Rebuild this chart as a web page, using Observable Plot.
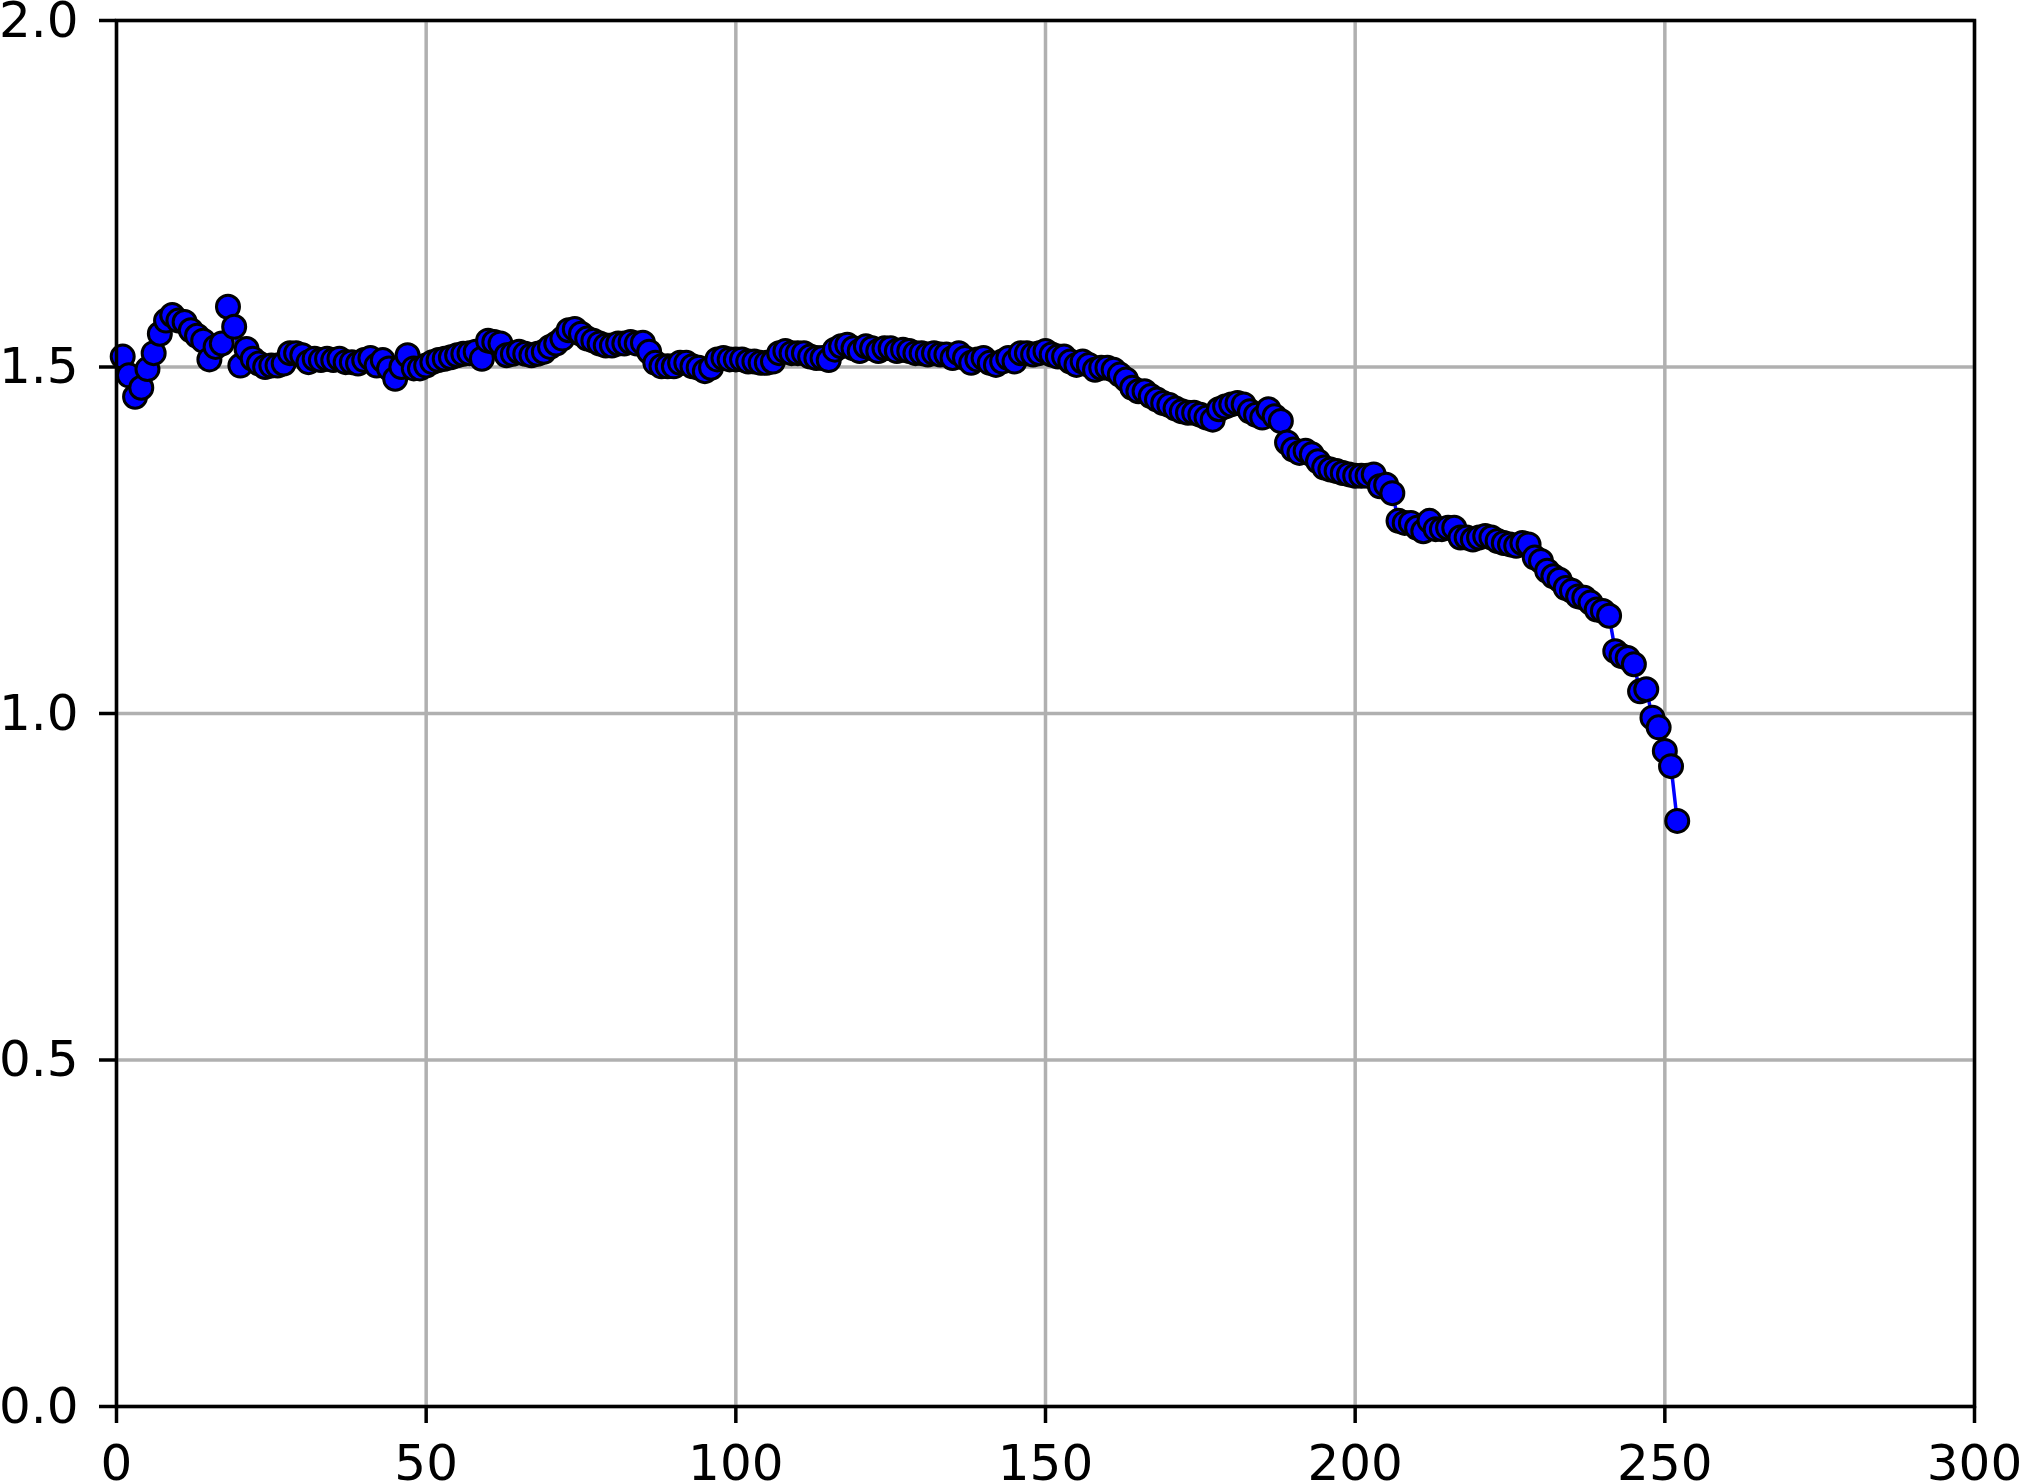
<!DOCTYPE html>
<html>
<head>
<meta charset="utf-8">
<script src="https://cdn.jsdelivr.net/npm/d3@7"></script>
<script src="https://cdn.jsdelivr.net/npm/@observablehq/plot@0.6"></script>
<style>
  html, body { margin: 0; padding: 0; background: #ffffff; }
  #chart svg { display: block; }
</style>
</head>
<body>
<div id="chart"></div>
<script>
const values = [
  1.515, 1.488, 1.457, 1.470, 1.497, 1.520, 1.548, 1.567, 1.575, 1.567,
  1.565, 1.553, 1.545, 1.538, 1.511, 1.529, 1.534, 1.587, 1.558, 1.502,
  1.526, 1.512, 1.505, 1.500, 1.502, 1.502, 1.505, 1.520, 1.520, 1.517,
  1.507, 1.512, 1.510, 1.512, 1.510, 1.512, 1.507, 1.507, 1.505, 1.510,
  1.513, 1.502, 1.510, 1.498, 1.483, 1.500, 1.517, 1.498, 1.498, 1.502,
  1.507, 1.510, 1.512, 1.514, 1.517, 1.519, 1.520, 1.522, 1.512, 1.538,
  1.536, 1.534, 1.517, 1.519, 1.522, 1.519, 1.517, 1.519, 1.522, 1.529,
  1.534, 1.541, 1.553, 1.555, 1.548, 1.541, 1.538, 1.534, 1.531, 1.531,
  1.534, 1.534, 1.536, 1.534, 1.535, 1.522, 1.506, 1.501, 1.501, 1.501,
  1.506, 1.506, 1.501, 1.499, 1.494, 1.499, 1.511, 1.513, 1.511, 1.511,
  1.511, 1.508, 1.508, 1.506, 1.506, 1.508, 1.520, 1.523, 1.520, 1.520,
  1.520, 1.515, 1.513, 1.513, 1.510, 1.525, 1.530, 1.532, 1.527, 1.523,
  1.530, 1.527, 1.523, 1.527, 1.527, 1.523, 1.525, 1.523, 1.520, 1.520,
  1.518, 1.520, 1.518, 1.518, 1.513, 1.520, 1.513, 1.506, 1.511, 1.513,
  1.506, 1.503, 1.508, 1.513, 1.508, 1.520, 1.520, 1.518, 1.520, 1.523,
  1.518, 1.515, 1.515, 1.508, 1.503, 1.508, 1.503, 1.496, 1.499, 1.499,
  1.496, 1.489, 1.482, 1.470, 1.465, 1.465, 1.458, 1.453, 1.448, 1.445,
  1.440, 1.436, 1.434, 1.434, 1.431, 1.427, 1.424, 1.439, 1.443, 1.446,
  1.448, 1.446, 1.436, 1.431, 1.427, 1.439, 1.429, 1.422, 1.391, 1.381,
  1.376, 1.379, 1.374, 1.364, 1.355, 1.352, 1.350, 1.347, 1.345, 1.343,
  1.343, 1.343, 1.345, 1.328, 1.330, 1.318, 1.278, 1.275, 1.275, 1.268,
  1.263, 1.278, 1.266, 1.266, 1.268, 1.268, 1.254, 1.254, 1.251, 1.254,
  1.256, 1.254, 1.249, 1.246, 1.244, 1.242, 1.246, 1.244, 1.225, 1.220,
  1.206, 1.198, 1.193, 1.181, 1.177, 1.169, 1.167, 1.160, 1.150, 1.148,
  1.141, 1.090, 1.083, 1.080, 1.071, 1.032, 1.035, 0.994, 0.980, 0.946,
  0.924, 0.845
];
const xTicks = [0, 50, 100, 150, 200, 250, 300];
const yTicks = [0.0, 0.5, 1.0, 1.5, 2.0];

const data = values.map((v, i) => ({x: i + 1, y: v}));

const font = "'DejaVu Sans', sans-serif";
const chart = Plot.plot({
  width: 2022,
  height: 1482,
  marginLeft: 116,
  marginRight: 48,
  marginTop: 20,
  marginBottom: 76,
  style: {background: "#ffffff", fontFamily: font, fontSize: "50px", color: "#000000", overflow: "visible"},
  x: {domain: [0, 300]},
  y: {domain: [0, 2]},
  marks: [
    Plot.gridX(xTicks, {stroke: "#b0b0b0", strokeOpacity: 1, strokeWidth: 3.5}),
    Plot.gridY(yTicks, {stroke: "#b0b0b0", strokeOpacity: 1, strokeWidth: 3.5}),
    Plot.line(data, {x: "x", y: "y", stroke: "#0000ff", strokeWidth: 3.5}),
    Plot.dot(data, {x: "x", y: "y", r: 11.5, fill: "#0000ff", stroke: "#000000", strokeWidth: 3}),
    Plot.frame({stroke: "#000000", strokeWidth: 3.5}),
    Plot.axisX(xTicks, {tickSize: 17, tickPadding: 21, strokeWidth: 3.5, fontSize: 50, label: null, tickFormat: d => String(d)}),
    Plot.axisY(yTicks, {tickSize: 17, tickPadding: 21, strokeWidth: 3.5, fontSize: 50, label: null, tickFormat: d => d.toFixed(1)})
  ]
});
document.getElementById("chart").appendChild(chart);
</script>
</body>
</html>
